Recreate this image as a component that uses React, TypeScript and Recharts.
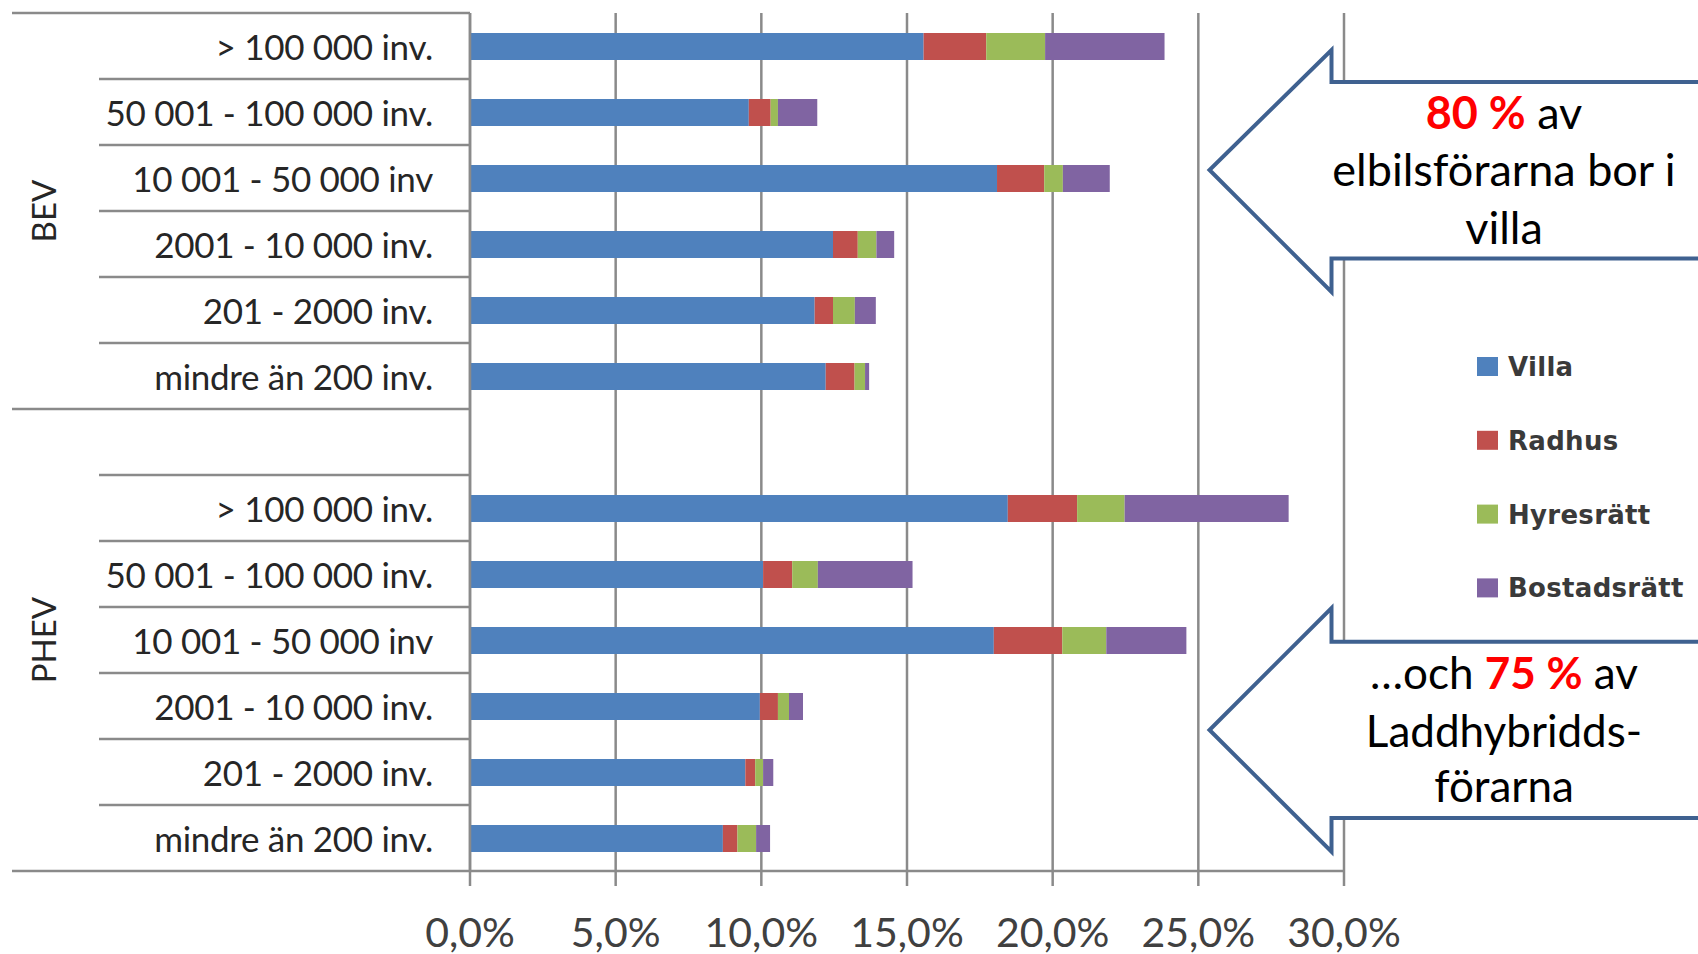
import React from "react";
import { BarChart, Bar, XAxis, YAxis, CartesianGrid, Legend } from "recharts";

// ---- data ----
const groups = ["BEV", "BEV", "BEV", "BEV", "BEV", "BEV", "PHEV", "PHEV", "PHEV", "PHEV", "PHEV", "PHEV", "PHEV"];
const categories = [
  "> 100 000 inv.",
  "50 001 - 100 000 inv.",
  "10 001 - 50 000 inv",
  "2001 - 10 000 inv.",
  "201 - 2000 inv.",
  "mindre än 200 inv.",
  "",
  "> 100 000 inv.",
  "50 001 - 100 000 inv.",
  "10 001 - 50 000 inv",
  "2001 - 10 000 inv.",
  "201 - 2000 inv.",
  "mindre än 200 inv.",
];
const villa = [15.57, 9.57, 18.09, 12.46, 11.83, 12.21, null, 18.46, 10.06, 17.98, 9.95, 9.45, 8.68];
const radhus = [2.15, 0.75, 1.62, 0.85, 0.63, 0.99, null, 2.38, 1.0, 2.35, 0.62, 0.34, 0.5];
const hyresratt = [2.02, 0.25, 0.64, 0.64, 0.75, 0.36, null, 1.63, 0.88, 1.51, 0.38, 0.27, 0.64];
const bostadsratt = [4.1, 1.35, 1.61, 0.61, 0.72, 0.14, null, 5.63, 3.25, 2.75, 0.48, 0.35, 0.48];
const xTicks = [0, 5, 10, 15, 20, 25, 30];

const seriesNames = ["Villa", "Radhus", "Hyresrätt", "Bostadsrätt"];
const seriesColors = ["#4f81bd", "#c0504d", "#9bbb59", "#8064a2"];

const data = categories.map((c, i) => ({
  id: `${groups[i]}-${i}`,
  label: c,
  group: groups[i],
  Villa: villa[i],
  Radhus: radhus[i],
  "Hyresrätt": hyresratt[i],
  "Bostadsrätt": bostadsratt[i],
}));

const LINE = "#8a8a8a";
const LABEL_FONT = "Lato, 'Open Sans', sans-serif";
const LEGEND_FONT = "'DejaVu Sans', Verdana, sans-serif";
const TICK_MARGIN = 37;

const groupInfo = (() => {
  const info: Record<string, { first: number; count: number }> = {};
  groups.forEach((g, i) => {
    if (!info[g]) info[g] = { first: i, count: 0 };
    info[g].count += 1;
  });
  return info;
})();

const CategoryTick = (props: any) => {
  const { x, y, payload, index } = props;
  const half = payload && payload.offset ? payload.offset : 0;
  const axisX = x + TICK_MARGIN;
  const i = index;
  const row = data[i];
  const isGroupStart = i === 0 || groups[i] !== groups[i - 1];
  const lineLeft = isGroupStart ? 12 : 99;
  const elements: React.ReactNode[] = [];
  elements.push(
    <line key="sep" x1={lineLeft} x2={axisX} y1={y - half} y2={y - half} stroke={LINE} strokeWidth={2.5} />
  );
  if (i === data.length - 1) {
    elements.push(
      <line key="sepb" x1={12} x2={axisX} y1={y + half} y2={y + half} stroke={LINE} strokeWidth={2.5} />
    );
  }
  const gi = groupInfo[row.group];
  const mid = gi.first + (gi.count - 1) / 2;
  if (Math.floor(mid) === i) {
    const gy = y + (mid - i) * 2 * half;
    elements.push(
      <text
        key="grp"
        x={43}
        y={gy}
        transform={`rotate(-90 43 ${gy})`}
        textAnchor="middle"
        dominantBaseline="central"
        fontFamily={LABEL_FONT}
        fontSize={33}
        fill="#262626"
      >
        {row.group}
      </text>
    );
  }
  elements.push(
    <text
      key="lbl"
      x={x}
      y={y}
      textAnchor="end"
      dominantBaseline="central"
      fontFamily={LABEL_FONT}
      fontSize={35}
      letterSpacing={-0.3}
      fill="#262626"
    >
      {row.label}
    </text>
  );
  return <g>{elements}</g>;
};

const XTick = (props: any) => {
  const { x, payload } = props;
  return (
    <text
      x={x}
      y={931}
      textAnchor="middle"
      dominantBaseline="central"
      fontFamily={LABEL_FONT}
      fontSize={41}
      fill="#404040"
    >
      {payload.value.toFixed(1).replace(".", ",") + "%"}
    </text>
  );
};

const LegendContent = (props: any) => {
  const payload = [...(props.payload || [])].sort(
    (a: any, b: any) => seriesNames.indexOf(a.value) - seriesNames.indexOf(b.value)
  );
  return (
    <svg width={230} height={300} style={{ overflow: "visible" }}>
      {payload.map((p: any, i: number) => (
        <g key={p.value} transform={`translate(0 ${i * 73.8})`}>
          <rect x={0} y={0} width={21} height={19} fill={p.color} />
          <text
            x={31}
            y={10}
            dominantBaseline="central"
            fontFamily={LEGEND_FONT}
            fontSize={26}
            fontWeight="bold"
            letterSpacing={0.3}
            fill="#3a3a3a"
          >
            {p.value}
          </text>
        </g>
      ))}
    </svg>
  );
};

const ArrowOverlay = () => {
  const stroke = "#3f6190";
  const top = "M 1710 82 L 1331.5 82 L 1331.5 50 L 1209.5 170 L 1331.5 292 L 1331.5 258.5 L 1710 258.5";
  const bot = "M 1710 641.7 L 1331.5 641.7 L 1331.5 608 L 1209.5 730 L 1331.5 851.6 L 1331.5 818 L 1710 818";
  const tf = { fontFamily: LABEL_FONT, fontSize: 45, fill: "#000" } as const;
  const tb = { fontFamily: LABEL_FONT, fontSize: 44, fill: "#000" } as const;
  return (
    <svg
      width={1698}
      height={954}
      style={{ position: "absolute", left: 0, top: 0, pointerEvents: "none" }}
    >
      <path d={top} fill="#fff" stroke={stroke} strokeWidth={4} strokeLinejoin="miter" />
      <path d={bot} fill="#fff" stroke={stroke} strokeWidth={4} strokeLinejoin="miter" />
      <text x={1504} y={112} textAnchor="middle" dominantBaseline="central" {...tf}>
        <tspan fill="#ff0000" fontWeight="bold">80 %</tspan> av
      </text>
      <text x={1504} y={169} textAnchor="middle" dominantBaseline="central" {...tf}>
        elbilsförarna bor i
      </text>
      <text x={1504} y={227} textAnchor="middle" dominantBaseline="central" {...tf}>
        villa
      </text>
      <text x={1504} y={672} textAnchor="middle" dominantBaseline="central" {...tb}>
        …och <tspan fill="#ff0000" fontWeight="bold">75 %</tspan> av
      </text>
      <text x={1504} y={730} textAnchor="middle" dominantBaseline="central" {...tb}>
        Laddhybridds-
      </text>
      <text x={1504} y={785} textAnchor="middle" dominantBaseline="central" {...tb}>
        förarna
      </text>
    </svg>
  );
};

export default function App() {
  return (
    <div style={{ position: "absolute", left: 0, top: 0, width: 1698, height: 954, background: "#fff" }}>
      <BarChart
        width={1698}
        height={954}
        data={data}
        layout="vertical"
        margin={{ top: 13, right: 354, bottom: 0, left: 0 }}
        barCategoryGap={0}
      >
        <CartesianGrid horizontal={false} vertical={true} stroke={LINE} strokeWidth={2.5} />
        <XAxis
          type="number"
          domain={[0, 30]}
          ticks={xTicks}
          interval={0}
          height={83}
          axisLine={{ stroke: LINE, strokeWidth: 2.5 }}
          tickLine={{ stroke: LINE, strokeWidth: 2.5 }}
          tickSize={15}
          tick={<XTick />}
        />
        <YAxis
          type="category"
          dataKey="id"
          width={470}
          interval={0}
          axisLine={{ stroke: LINE, strokeWidth: 2.5 }}
          tickLine={false}
          tickSize={0}
          tickMargin={TICK_MARGIN}
          tick={<CategoryTick />}
        />
        <Legend
          layout="horizontal"
          verticalAlign="middle"
          align="center"
          content={<LegendContent />}
          wrapperStyle={{ position: "absolute", left: 1477, top: 357, width: 230, height: 300 }}
        />
        {seriesNames.map((s, k) => (
          <Bar key={s} dataKey={s} stackId="a" fill={seriesColors[k]} barSize={27} isAnimationActive={false} />
        ))}
      </BarChart>
      <ArrowOverlay />
    </div>
  );
}
